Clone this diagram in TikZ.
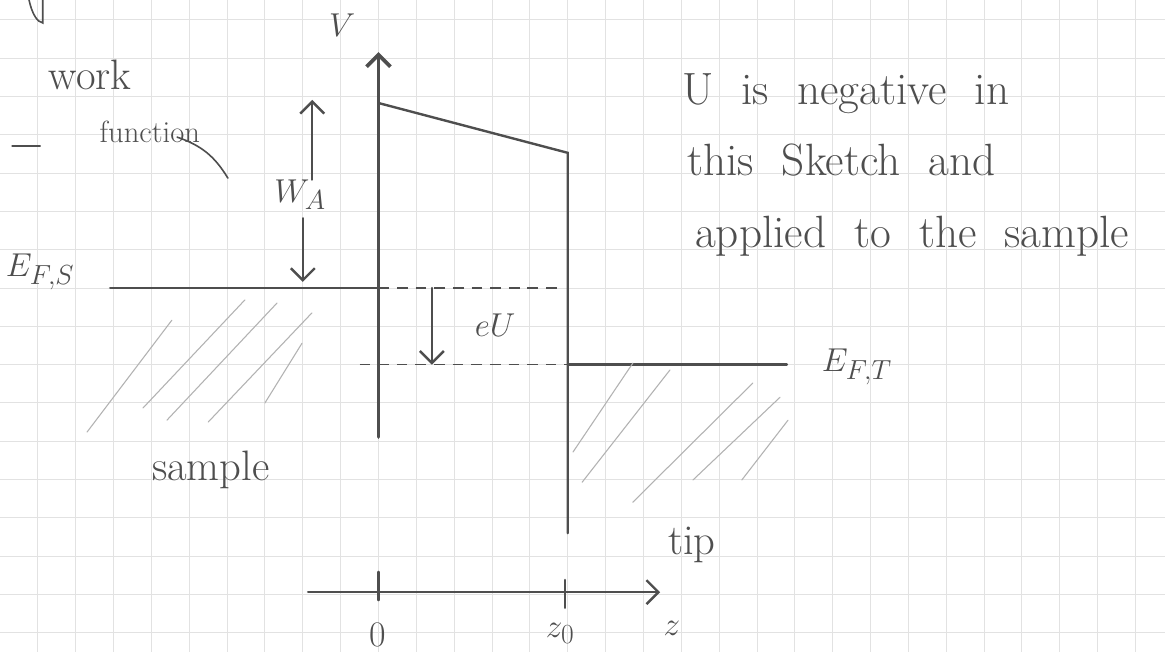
\documentclass[tikz,border=0pt]{standalone}
\usetikzlibrary{arrows.meta, positioning}
\definecolor{pencil}{RGB}{78,78,78}
\definecolor{paper}{RGB}{226,226,226}
\definecolor{smudge}{RGB}{178,178,178}
\newcommand\widespace{\spaceskip=0.62em plus 0.1em\relax}

\begin{document}
\begin{tikzpicture}[x=1cm, y=1.012cm, >={Straight Barb[length=9pt,width=18pt]},
    hand/.style={font=\fontsize{32}{38}\selectfont, text=pencil, inner sep=0pt},
    small/.style={font=\fontsize{23}{28}\selectfont, text=pencil, inner sep=0pt},
    note/.style={font=\fontsize{34}{40}\selectfont\widespace, text=pencil, inner sep=0pt, anchor=base west},
    pen/.style={draw=pencil, line width=1.8pt, line cap=round},
    hatch/.style={draw=smudge, line width=0.8pt, line cap=round},
    dashline/.style={draw=pencil, line width=1.2pt, dash pattern=on 8pt off 6pt}]
  \useasboundingbox (0,0) rectangle (30.78,17.02);
  \fill[white] (0,0) rectangle (30.78,17.02);
  % squared paper
  \foreach \x in {1,...,30}{\draw[paper, line width=0.7pt] (\x,0) -- (\x,17.02);}
  \foreach \y in {0,...,16}{\draw[paper, line width=0.7pt] (0,\y+0.5) -- (30.78,\y+0.5);}

  % potential of the gap
  \coordinate (top) at (10,15.66);
  \coordinate (bot) at (10,5.61);
  \coordinate (bl) at (10,14.33);
  \coordinate (br) at (15,13.03);
  \coordinate (tipbot) at (15,3.10);
  \coordinate (efs0) at (2.91,9.5);
  \coordinate (efs1) at (10,9.5);
  \coordinate (efs2) at (14.85,9.5);
  \coordinate (eft0) at (9.5,7.5);
  \coordinate (eft1) at (15,7.5);
  \coordinate (eft2) at (20.79,7.5);
  \draw[pen, line width=2.8pt, ->] (bot) -- (top);
  \draw[pen] (bl) -- (br) -- (tipbot);
  \draw[pen] (efs0) -- (efs1);
  \draw[dashline] (efs1) -- (efs2);
  \draw[dashline] (eft0) -- (eft1);
  \draw[pen] (eft1) -- (eft2);
  \node[small] (vlab) at (9.04,16.35) {$V$};
  \node[hand] (efs) at (1.06,9.92) {$E_{F,S}$};
  \node[hand] (eft) at (22.64,7.44) {$E_{F,T}$};

  % work function
  \node[hand] (wa) at (7.93,11.93) {$W_A$};
  \coordinate (watop) at (8.25,14.41);
  \coordinate (wabot) at (8.0,9.66);
  \draw[pen, ->] (wa.north -| watop) -- (watop);
  \draw[pen, ->] ([yshift=-6pt]wa.south -| wabot) -- (wabot);
  \node[hand] (work) at (2.38,15.06) {work};
  \node[small] (func) at (3.96,13.58) {function};
  \coordinate (c0) at (4.68,13.44);
  \coordinate (c1) at (6.02,12.37);
  \draw[pen, line width=1.2pt] (c0) to[bend left=20] (c1);
  \coordinate (d0) at (0.32,13.21);
  \coordinate (d1) at (1.06,13.21);
  \draw[pen, line width=1.2pt] (d0) -- (d1);
  \draw[pen, line width=1.2pt] (0.75,17.1) .. controls (0.85,16.6) and (1.0,16.45) .. (1.13,16.42) -- (1.13,17.1);

  % bias
  \coordinate (eu0) at (11.41,9.5);
  \coordinate (eu1) at (11.41,7.5);
  \draw[pen, ->] (eu0) -- (eu1);
  \node[hand] (eu) at (13.08,8.53) {$eU$};

  % electrodes
  \foreach \xa/\ya/\xb/\yb in {2.30/5.74/4.54/8.66, 3.78/6.37/6.47/9.19, 4.41/6.05/7.32/9.11,
      5.50/6.00/8.24/8.85, 7.00/6.50/7.98/8.06}{\draw[hatch] (\xa,\ya) -- (\xb,\yb);}
  \foreach \xa/\ya/\xb/\yb in {15.14/5.22/16.72/7.54, 15.38/4.43/17.70/7.36, 16.72/3.91/19.89/7.02,
      18.31/4.49/20.61/6.65, 19.60/4.49/20.82/6.05}{\draw[hatch] (\xa,\ya) -- (\xb,\yb);}
  \node[hand] (sample) at (5.57,4.75) {sample};
  \node[hand] (tip) at (18.28,2.79) {tip};

  % note
  \node[note] (note1) at (18.02,14.28) {U is negative in};
  \node[note] (note2) at (18.15,12.45) {this Sketch and};
  \node[note] (note3) at (18.36,10.57) {applied to the sample};

  % z axis
  \coordinate (zl) at (8.14,1.56);
  \coordinate (zr) at (17.44,1.56);
  \draw[pen, ->] (zl) -- (zr);
  \draw[pen] (10,2.09) -- (10,1.35);
  \draw[pen] (14.93,1.88) -- (14.93,1.15);
  \node[hand, font=\fontsize{27}{32}\selectfont] (zero) at (9.99,0.45) {0};
  \node[hand] (zz) at (14.8,0.48) {$z_0$};
  \node[hand] (zlab) at (17.75,0.62) {$z$};
\end{tikzpicture}
\end{document}
